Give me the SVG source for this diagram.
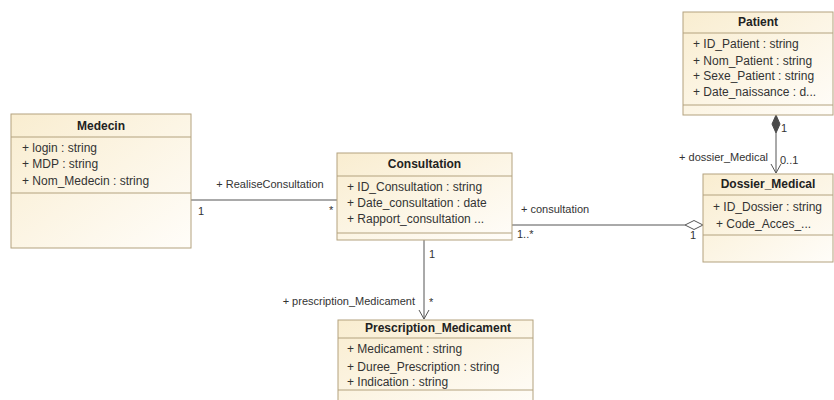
<svg xmlns="http://www.w3.org/2000/svg" width="834" height="400" viewBox="0 0 834 400">
<defs>
<linearGradient id="g" x1="0" y1="0" x2="1" y2="1">
<stop offset="0" stop-color="#F9EDD0"/>
<stop offset="1" stop-color="#FFFDF9"/>
</linearGradient>
<marker id="open" markerWidth="12" markerHeight="12" refX="10" refY="6" orient="auto" markerUnits="userSpaceOnUse">
<path d="M1,1 L10,6 L1,11" fill="none" stroke="#555" stroke-width="1"/>
</marker>
</defs>
<style>
.box{fill:url(#g);stroke:#B3A27F;stroke-width:1}
.div{stroke:#B3A27F;stroke-width:1}
.t{font-family:"Liberation Sans",Arial,sans-serif;font-size:12px;font-weight:bold;fill:#222;text-anchor:middle}
.a{font-family:"Liberation Sans",Arial,sans-serif;font-size:12px;fill:#333}
.l{font-family:"Liberation Sans",Arial,sans-serif;font-size:11px;fill:#333}
.c{stroke:#555;stroke-width:1;fill:none}
</style>
<rect width="834" height="400" fill="#fff"/>
<g id="connectors">
<line class="c" x1="191" y1="200" x2="337" y2="200"/>
<text class="l" x="270" y="188" text-anchor="middle">+ RealiseConsultation</text>
<text class="l" x="198" y="215">1</text>
<text class="l" x="329" y="214">*</text>
<line class="c" x1="512" y1="225" x2="685" y2="225"/>
<path d="M685,225 L694,220.5 L703,225 L694,229.5 Z" fill="#fff" stroke="#555" stroke-width="1"/>
<text class="l" x="521" y="213">+ consultation</text>
<text class="l" x="517" y="238">1..*</text>
<text class="l" x="690" y="239">1</text>
<line class="c" x1="424" y1="240" x2="424" y2="319" marker-end="url(#open)"/>
<text class="l" x="429" y="258">1</text>
<text class="l" x="429" y="306">*</text>
<text class="l" x="415" y="305" text-anchor="end">+ prescription_Medicament</text>
<line class="c" x1="776" y1="133" x2="776" y2="173" marker-end="url(#open)"/>
<path d="M776,115 L780,124 L776,133 L772,124 Z" fill="#4a4a4a" stroke="#4a4a4a" stroke-width="1"/>
<text class="l" x="781" y="132">1</text>
<text class="l" x="780" y="164">0..1</text>
<text class="l" x="768" y="161" text-anchor="end">+ dossier_Medical</text>
</g>
<g id="Medecin">
<rect class="box" x="11" y="114" width="180" height="134"/>
<line class="div" x1="11" y1="137" x2="191" y2="137"/>
<line class="div" x1="11" y1="193" x2="191" y2="193"/>
<text class="t" x="101" y="130">Medecin</text>
<text class="a" x="22" y="152">+ login : string</text>
<text class="a" x="22" y="168">+ MDP : string</text>
<text class="a" x="22" y="185">+ Nom_Medecin : string</text>
</g>
<g id="Consultation">
<rect class="box" x="337" y="153" width="175" height="87"/>
<line class="div" x1="337" y1="176" x2="512" y2="176"/>
<line class="div" x1="337" y1="233" x2="512" y2="233"/>
<text class="t" x="424.5" y="168">Consultation</text>
<text class="a" x="347" y="191">+ ID_Consultation : string</text>
<text class="a" x="347" y="207">+ Date_consultation : date</text>
<text class="a" x="347" y="223">+ Rapport_consultation ...</text>
</g>
<g id="Patient">
<rect class="box" x="683" y="12" width="150" height="103"/>
<line class="div" x1="683" y1="33" x2="833" y2="33"/>
<line class="div" x1="683" y1="105" x2="833" y2="105"/>
<text class="t" x="758" y="26">Patient</text>
<text class="a" x="693" y="48">+ ID_Patient : string</text>
<text class="a" x="693" y="65">+ Nom_Patient : string</text>
<text class="a" x="693" y="80">+ Sexe_Patient : string</text>
<text class="a" x="693" y="96">+ Date_naissance : d...</text>
</g>
<g id="Dossier_Medical">
<rect class="box" x="703" y="174" width="130" height="88"/>
<line class="div" x1="703" y1="195" x2="833" y2="195"/>
<line class="div" x1="703" y1="235" x2="833" y2="235"/>
<text class="t" x="768" y="188">Dossier_Medical</text>
<text class="a" x="713" y="211">+ ID_Dossier : string</text>
<text class="a" x="716" y="228">+ Code_Acces_...</text>
</g>
<g id="Prescription_Medicament">
<rect class="box" x="338" y="320" width="195" height="90"/>
<line class="div" x1="338" y1="338" x2="533" y2="338"/>
<line class="div" x1="338" y1="390" x2="533" y2="390"/>
<text class="t" x="438" y="332">Prescription_Medicament</text>
<text class="a" x="347" y="353">+ Medicament : string</text>
<text class="a" x="347" y="371">+ Duree_Prescription : string</text>
<text class="a" x="347" y="386">+ Indication : string</text>
</g>
</svg>
